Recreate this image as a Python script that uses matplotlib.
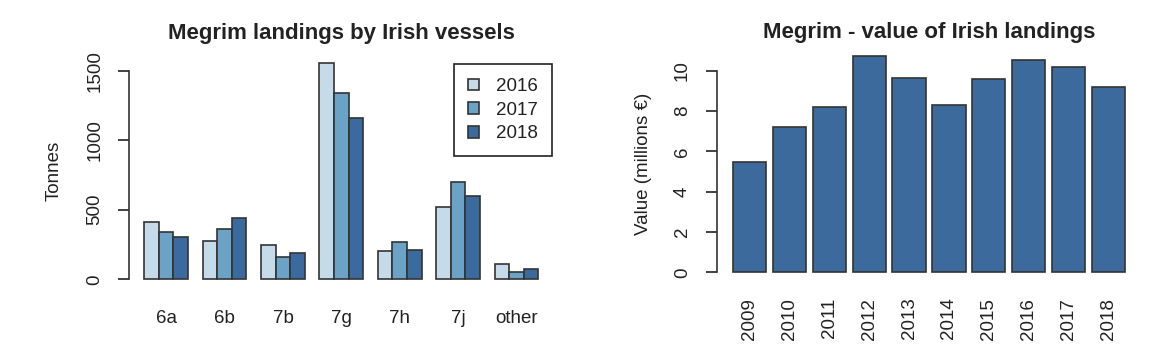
import matplotlib
matplotlib.use('Agg')
import matplotlib.pyplot as plt
import numpy as np

# data
areas = ['6a', '6b', '7b', '7g', '7h', '7j', 'other']
years_leg = ['2016', '2017', '2018']
land_2016 = [411, 275, 244, 1552, 203, 521, 108]
land_2017 = [340, 361, 160, 1340, 268, 703, 53]
land_2018 = [304, 440, 187, 1158, 213, 596, 74]

years = ['2009', '2010', '2011', '2012', '2013', '2014', '2015', '2016', '2017', '2018']
value = [5.49, 7.22, 8.21, 10.73, 9.62, 8.30, 9.57, 10.51, 10.20, 9.21]

COLS = ['#c6dbe9', '#6aa3c6', '#3b6a9e']
EDGE = '#333333'
TXT = '#222222'

matplotlib.rcParams['font.family'] = ['Liberation Sans', 'DejaVu Sans']
matplotlib.rcParams['font.size'] = 13.5

W, H = 1174, 358
fig = plt.figure(figsize=(W / 100., H / 100.), dpi=100)


def px_axes(l, t, r, b):
    # axes from pixel box
    return fig.add_axes([l / W, 1 - b / H, (r - l) / W, (b - t) / H])


# ---- left: landings by area
ax = px_axes(128.5, 54.8, 554.2, 287.9)
series = [land_2016, land_2017, land_2018]
ngrp = len(areas)
for k, s in enumerate(series):
    xs = 1 + np.arange(ngrp) * 4 + k + 0.5
    ax.bar(xs, s, width=1, color=COLS[k], edgecolor=EDGE, linewidth=1.2, label=years_leg[k])
ax.set_xlim(-0.08, 29.08)
ax.set_ylim(-62, 1614)
ax.set_xticks(1 + np.arange(ngrp) * 4 + 1.5)
ax.set_xticklabels(areas)
ax.tick_params(axis='x', length=0, pad=16, colors=TXT)
ax.set_yticks([0, 500, 1000, 1500])
ax.set_yticklabels(['0', '500', '1000', '1500'], rotation=90, va='center')
ax.tick_params(axis='y', length=8, width=1.2, pad=10, colors=TXT)
for sp in ['top', 'right', 'bottom']:
    ax.spines[sp].set_visible(False)
ax.spines['left'].set_bounds(0, 1500)
ax.spines['left'].set_linewidth(1.2)
ax.spines['left'].set_color(EDGE)
ax.set_ylabel('Tonnes', color=TXT, labelpad=17)
ax.set_title('Megrim landings by Irish vessels', fontweight='bold', fontsize=16, color=TXT, pad=11.4)
leg = ax.legend(loc='upper right', bbox_to_anchor=(0.9955, 0.9605), fancybox=False,
                edgecolor='#222222', framealpha=1, handlelength=0.6, handleheight=0.6,
                handletextpad=0.9, labelspacing=0.35, borderpad=0.75, borderaxespad=0)
leg.get_frame().set_linewidth(1.2)
for t in leg.get_texts():
    t.set_color(TXT)

# ---- right: value by year
ax2 = px_axes(717.3, 47.3, 1140.7, 281.0)
xs2 = 0.2 + np.arange(len(years)) * 1.2 + 0.5
ax2.bar(xs2, value, width=1, color='#3d6a9c', edgecolor=EDGE, linewidth=1.2)
ax2.set_xlim(-0.272, 12.472)
ax2.set_ylim(-0.43, 11.16)
ax2.set_xticks(xs2)
ax2.set_xticklabels(years, rotation=90)
ax2.tick_params(axis='x', length=0, pad=12, colors=TXT)
ax2.set_yticks([0, 2, 4, 6, 8, 10])
ax2.set_yticklabels(['0', '2', '4', '6', '8', '10'], rotation=90, va='center')
ax2.tick_params(axis='y', length=8, width=1.2, pad=11, colors=TXT)
for sp in ['top', 'right', 'bottom']:
    ax2.spines[sp].set_visible(False)
ax2.spines['left'].set_bounds(0, 10)
ax2.spines['left'].set_linewidth(1.2)
ax2.spines['left'].set_color(EDGE)
ax2.set_ylabel('Value (millions €)', color=TXT, labelpad=16)
ax2.set_title('Megrim - value of Irish landings', fontweight='bold', fontsize=16, color=TXT, pad=6.7)

fig.savefig('out.png', dpi=100)
plt.close()
